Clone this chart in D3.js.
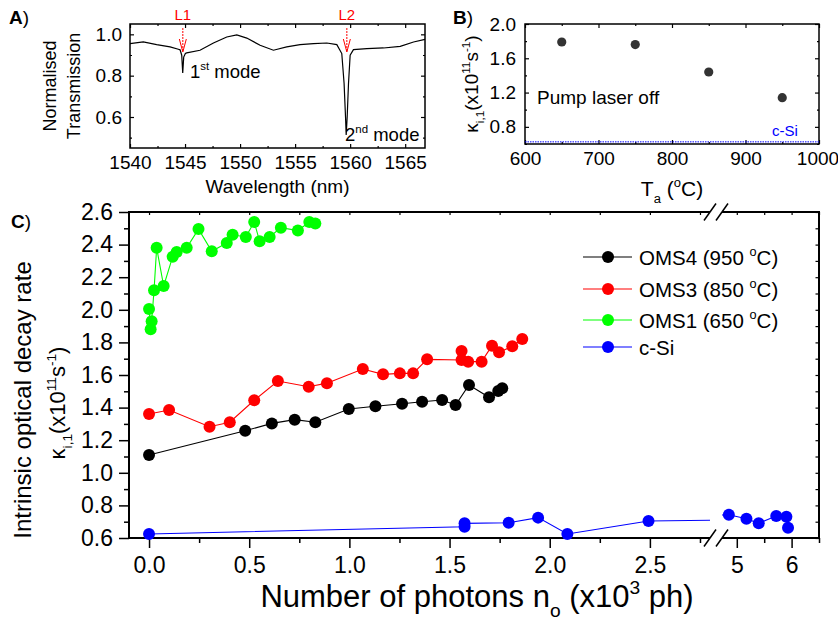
<!DOCTYPE html>
<html><head><meta charset="utf-8">
<script src="https://cdn.jsdelivr.net/npm/d3@7"></script>
<style>
body{margin:0;background:#fff;}
</style></head><body>
<svg id="c" width="838" height="626"></svg>
<script>
// ---------------- Panel A data ----------------
const wavelengthNm = [1540.0,1541.21,1542.42,1543.64,1544.39,1544.55,1544.70,1544.79,1544.88,1545.03,1545.15,1546.36,1547.58,1548.79,1549.70,1550.61,1551.82,1553.03,1554.24,1555.45,1556.67,1557.88,1558.79,1559.24,1559.45,1559.58,1559.64,1559.73,1559.85,1560.0,1560.30,1561.52,1563.03,1564.55,1565.76,1566.8];
const transmission = [0.955,0.963,0.950,0.939,0.928,0.925,0.899,0.813,0.890,0.907,0.910,0.923,0.958,0.987,0.997,0.982,0.947,0.923,0.939,0.950,0.955,0.958,0.950,0.907,0.762,0.600,0.513,0.600,0.762,0.899,0.926,0.931,0.934,0.942,0.963,0.976];
const laserLabels = ["L1","L2"];
const laserWavelengths = [1544.8, 1559.7];
const xTicksA = [1540,1545,1550,1555,1560,1565];
const xMinorA = [1542.5,1547.5,1552.5,1557.5,1562.5];
const yTicksA = [0.6,0.8,1.0];
const yMinorA = [0.5,0.7,0.9];

// ---------------- Panel B data ----------------
const annealTemps = [650,750,850,950];
const kappaPumpOff = [1.79,1.76,1.44,1.14];
const cSiKappa = 0.625;
const xTicksB = [600,700,800,900,1000];
const xMinorB = [650,750,850,950];
const yTicksB = [0.8,1.2,1.6,2.0];
const yMinorB = [0.6,1.0,1.4,1.8];

// ---------------- Panel C data ----------------
const seriesNames = ["OMS4 (950 ", "OMS3 (850 ", "OMS1 (650 ", "c-Si"];
const seriesColors = ["#000000","#ff0000","#00ff00","#0000ff"];
const oms4X = [0.0,0.48,0.613,0.727,0.83,0.997,1.13,1.263,1.363,1.463,1.53,1.597,1.697,1.743,1.763];
const oms4Y = [1.109,1.258,1.303,1.326,1.31,1.391,1.408,1.424,1.436,1.447,1.416,1.539,1.463,1.502,1.518];
const oms3X = [0.0,0.1,0.302,0.403,0.525,0.643,0.797,0.888,1.067,1.168,1.252,1.318,1.388,1.56,1.56,1.593,1.66,1.712,1.747,1.813,1.863];
const oms3Y = [1.361,1.385,1.283,1.31,1.445,1.563,1.528,1.55,1.637,1.604,1.61,1.61,1.696,1.692,1.747,1.682,1.682,1.78,1.739,1.776,1.821];
const oms1X = [0.0,0.008,0.013,0.025,0.038,0.073,0.118,0.138,0.188,0.247,0.313,0.388,0.417,0.483,0.525,0.552,0.602,0.658,0.743,0.80,0.83];
const oms1Y = [2.005,1.88,1.93,2.12,2.38,2.146,2.326,2.355,2.38,2.495,2.359,2.41,2.46,2.447,2.539,2.42,2.447,2.504,2.486,2.539,2.53];
const cSiX = [0.0,1.575,1.575,1.795,1.942,2.088,2.493,4.855,5.176,5.4,5.72,5.905,5.935];
const cSiY = [0.625,0.669,0.69,0.694,0.725,0.625,0.704,0.743,0.718,0.69,0.735,0.731,0.663];
const xTicksCLeft = [0.0,0.5,1.0,1.5,2.0,2.5];
const xMinorCLeft = [0.25,0.75,1.25,1.75,2.25,2.75];
const xTicksCRight = [5,6];
const xMinorCRight = [5.5,6.5];
const yTicksC = [0.6,0.8,1.0,1.2,1.4,1.6,1.8,2.0,2.2,2.4,2.6];
const yMinorC = [0.7,0.9,1.1,1.3,1.5,1.7,1.9,2.1,2.3,2.5];
const breakLeft = 2.8, breakRight = 4.73;

// ---------------- helpers ----------------
const FONT = "'Liberation Sans', Arial, Helvetica, sans-serif";
const svg = d3.select("#c");

function rich(g, parts, fs, attrs) {
  const t = g.append("text").attr("font-size", fs).attr("font-family", FONT).attr("fill", "#000");
  for (const k in (attrs || {})) t.attr(k, attrs[k]);
  let shift = 0;
  parts.forEach(p => {
    const target = p.sup ? -fs * 0.42 : p.sub ? fs * 0.32 : 0;
    const ts = t.append("tspan").text(p.t).attr("dy", target - shift);
    if (p.sup || p.sub) ts.attr("font-size", fs * 0.62);
    shift = target;
  });
  return t;
}

function axis(g, gen, scale, tr, ticks, size, fs, fmt, pad, sw) {
  const a = gen(scale).tickValues(ticks).tickSizeInner(size).tickSizeOuter(0).tickPadding(pad || 3);
  a.tickFormat(fmt ? fmt : () => "");
  const s = g.append("g").attr("transform", tr).call(a);
  s.select(".domain").remove();
  s.selectAll("line").attr("stroke", "#000").attr("stroke-width", sw || 1.2);
  s.selectAll("text").attr("font-size", fs).attr("font-family", FONT).attr("fill", "#000");
  return s;
}

// ================= Panel A =================
(function () {
  const L = 130, R = 425, T = 24, B = 148;
  const x = d3.scaleLinear().domain([1540, 1566.8]).range([L, R]);
  const y = d3.scaleLinear().domain([0.45, 1.05]).range([B, T]);
  const g = svg.append("g");
  const f1 = d3.format(".1f");
  axis(g, d3.axisBottom, x, `translate(0,${B})`, xTicksA, -4, 19, d3.format("d"), 8);
  axis(g, d3.axisBottom, x, `translate(0,${B})`, xMinorA, -2, 19);
  axis(g, d3.axisTop, x, `translate(0,${T})`, xTicksA, -4, 19);
  axis(g, d3.axisTop, x, `translate(0,${T})`, xMinorA, -2, 19);
  axis(g, d3.axisLeft, y, `translate(${L},0)`, yTicksA, -4, 19, f1, 8);
  axis(g, d3.axisLeft, y, `translate(${L},0)`, yMinorA, -2, 19);
  axis(g, d3.axisRight, y, `translate(${R},0)`, yTicksA, -4, 19);
  axis(g, d3.axisRight, y, `translate(${R},0)`, yMinorA, -2, 19);
  g.append("rect").attr("x", L).attr("y", T).attr("width", R - L).attr("height", B - T)
    .attr("fill", "none").attr("stroke", "#000").attr("stroke-width", 1.5);
  const line = d3.line().x((d, i) => x(wavelengthNm[i])).y(d => y(d));
  g.append("path").attr("d", line(transmission)).attr("fill", "none").attr("stroke", "#000").attr("stroke-width", 1.2);
  laserWavelengths.forEach((w, i) => {
    const cx = x(w);
    g.append("line").attr("x1", cx).attr("x2", cx).attr("y1", 28).attr("y2", 51)
      .attr("stroke", "#ff0000").attr("stroke-width", 1).attr("stroke-dasharray", "2,1");
    g.append("path").attr("d", `M${cx - 3.5},39 L${cx},52 L${cx + 3.5},39`).attr("fill", "none")
      .attr("stroke", "#ff0000").attr("stroke-width", 1);
    g.append("text").text(laserLabels[i]).attr("x", cx).attr("y", 20).attr("text-anchor", "middle")
      .attr("font-size", 15).attr("font-family", FONT).attr("fill", "#ff0000");
  });
  rich(g, [{ t: "1" }, { t: "st", sup: true }, { t: " mode" }], 18.5, { x: 190, y: 78 });
  rich(g, [{ t: "2" }, { t: "nd", sup: true }, { t: " mode" }], 18.5, { x: 345, y: 141 });
  rich(g, [{ t: "Wavelength (nm)" }], 19, { x: (L + R) / 2, y: 193, "text-anchor": "middle" });
  rich(g, [{ t: "Normalised" }], 18, { transform: "translate(56,86) rotate(-90)", "text-anchor": "middle" });
  rich(g, [{ t: "Transmission" }], 18, { transform: "translate(80,86) rotate(-90)", "text-anchor": "middle" });
  const lab = g.append("text").attr("x", 9).attr("y", 24).attr("font-family", FONT).attr("font-size", 19);
  lab.append("tspan").text("A").attr("font-weight", "bold");
  lab.append("tspan").text(")");
})();

// ================= Panel B =================
(function () {
  const L = 525, R = 819, T = 24, B = 144;
  const x = d3.scaleLinear().domain([600, 1000]).range([L, R]);
  const y = d3.scaleLinear().domain([0.6, 2.0]).range([B, T]);
  const g = svg.append("g");
  const xa = axis(g, d3.axisBottom, x, `translate(0,${B})`, xTicksB, -4, 19, d3.format("d"), 8);
  xa.selectAll("text").filter(d => d === 1000).attr("dx", -1.5);
  axis(g, d3.axisBottom, x, `translate(0,${B})`, xMinorB, -2, 19);
  axis(g, d3.axisTop, x, `translate(0,${T})`, xTicksB, -4, 19);
  axis(g, d3.axisTop, x, `translate(0,${T})`, xMinorB, -2, 19);
  axis(g, d3.axisLeft, y, `translate(${L},0)`, yTicksB, -4, 19, d3.format(".1f"), 9);
  axis(g, d3.axisLeft, y, `translate(${L},0)`, yMinorB, -2, 19);
  axis(g, d3.axisRight, y, `translate(${R},0)`, yTicksB, -4, 19);
  axis(g, d3.axisRight, y, `translate(${R},0)`, yMinorB, -2, 19);
  g.append("rect").attr("x", L).attr("y", T).attr("width", R - L).attr("height", B - T)
    .attr("fill", "none").attr("stroke", "#000").attr("stroke-width", 1.5);
  g.append("line").attr("x1", L).attr("x2", R).attr("y1", y(cSiKappa)).attr("y2", y(cSiKappa))
    .attr("stroke", "#0000ff").attr("stroke-width", 1).attr("stroke-dasharray", "1.5,1");
  g.selectAll("circle.b").data(annealTemps).enter().append("circle")
    .attr("cx", d => x(d)).attr("cy", (d, i) => y(kappaPumpOff[i])).attr("r", 4.6).attr("fill", "#333333");
  rich(g, [{ t: "Pump laser off" }], 19, { x: 537, y: 104 });
  rich(g, [{ t: "c-Si" }], 15, { x: 772, y: 136, fill: "#0000ff" });
  rich(g, [{ t: "T" }, { t: "a", sub: true }, { t: " (" }, { t: "o", sup: true }, { t: "C)" }], 21, { x: (L + R) / 2, y: 196, "text-anchor": "middle" });
  rich(g, [{ t: "κ" }, { t: "i,1", sub: true }, { t: "(x10" }, { t: "11", sup: true }, { t: "s" }, { t: "-1", sup: true }, { t: ")" }], 19,
    { transform: "translate(478,84) rotate(-90)", "text-anchor": "middle" });
  const lab = g.append("text").attr("x", 453).attr("y", 24).attr("font-family", FONT).attr("font-size", 19);
  lab.append("tspan").text("B").attr("font-weight", "bold");
  lab.append("tspan").text(")");
})();

// ================= Panel C =================
(function () {
  const L = 129, R = 819, T = 212, B = 538;
  const xL = d3.scaleLinear().domain([-0.1, breakLeft]).range([L, 710]);
  const xR = d3.scaleLinear().domain([breakRight, 6.5]).range([722, R]);
  const xC = v => v <= breakLeft ? xL(v) : xR(v);
  const y = d3.scaleLinear().domain([0.6, 2.6]).range([B, T]);
  const g = svg.append("g");
  const f1 = d3.format(".1f");
  axis(g, d3.axisBottom, xL, `translate(0,${B})`, xTicksCLeft, 10, 23, f1, 9, 1.5);
  axis(g, d3.axisBottom, xL, `translate(0,${B})`, xMinorCLeft, 5, 23, null, 3, 1.5);
  axis(g, d3.axisBottom, xR, `translate(0,${B})`, xTicksCRight, 10, 23, d3.format("d"), 9, 1.5);
  axis(g, d3.axisBottom, xR, `translate(0,${B})`, xMinorCRight, 5, 23, null, 3, 1.5);
  axis(g, d3.axisTop, xL, `translate(0,${T})`, xTicksCLeft.concat(xMinorCLeft), -3, 23, null, 3, 1.2);
  axis(g, d3.axisTop, xR, `translate(0,${T})`, xTicksCRight.concat(xMinorCRight), -3, 23, null, 3, 1.2);
  axis(g, d3.axisLeft, y, `translate(${L},0)`, yTicksC, 10, 23, f1, 6, 1.5);
  axis(g, d3.axisLeft, y, `translate(${L},0)`, yMinorC, 5, 23, null, 3, 1.5);
  axis(g, d3.axisRight, y, `translate(${R},0)`, yTicksC.concat(yMinorC), -3.5, 23, null, 3, 1.2);
  const fl = (x1, y1, x2, y2, w) => g.append("line").attr("x1", x1).attr("y1", y1).attr("x2", x2).attr("y2", y2)
    .attr("stroke", "#000").attr("stroke-width", w);
  fl(L, T - 1, L, B + 1, 2);
  fl(R, T - 1, R, B + 1, 2);
  fl(L, B, xL(breakLeft), B, 2);
  fl(xR(breakRight), B, R, B, 2);
  fl(L, T, xL(breakLeft), T, 1.8);
  fl(xR(breakRight), T, R, T, 1.8);
  [T, B].forEach(yy => {
    [xL(breakLeft), xR(breakRight)].forEach(cx => {
      g.append("line").attr("x1", cx - 6).attr("y1", yy + 8.5).attr("x2", cx + 6).attr("y2", yy - 8.5)
        .attr("stroke", "#000").attr("stroke-width", 1.5);
    });
  });

  const series = [[oms4X, oms4Y], [oms3X, oms3Y], [oms1X, oms1Y], [cSiX, cSiY]];
  const line = d3.line().x(d => xC(d[0])).y(d => y(d[1]));
  [3, 2, 1, 0].forEach(si => {
    const [xs, ys] = series[si];
    const pts = xs.map((v, i) => [v, ys[i]]);
    const left = [], right = [];
    for (let i = 0; i < pts.length; i++) {
      const p = pts[i];
      if (p[0] <= breakLeft) left.push(p); else if (p[0] >= breakRight) right.push(p);
      if (i < pts.length - 1) {
        const q = pts[i + 1];
        if (p[0] <= breakLeft && q[0] >= breakRight) {
          const f = v => p[1] + (q[1] - p[1]) * (v - p[0]) / (q[0] - p[0]);
          left.push([breakLeft, f(breakLeft)]);
          right.push([breakRight, f(breakRight)]);
        }
      }
    }
    [left, right].forEach(seg => {
      if (seg.length > 1) g.append("path").attr("d", line(seg)).attr("fill", "none")
        .attr("stroke", seriesColors[si]).attr("stroke-width", 1.1);
    });
    g.append("g").selectAll("circle").data(pts).enter().append("circle")
      .attr("cx", d => xC(d[0])).attr("cy", d => y(d[1])).attr("r", 6).attr("fill", seriesColors[si]);
  });

  const rowsY = [257, 289, 320, 347];
  seriesNames.forEach((n, i) => {
    const yy = rowsY[i];
    g.append("line").attr("x1", 583).attr("x2", 632).attr("y1", yy).attr("y2", yy)
      .attr("stroke", seriesColors[i]).attr("stroke-width", 1.1);
    g.append("circle").attr("cx", 608).attr("cy", yy).attr("r", 6).attr("fill", seriesColors[i]);
    const parts = i < 3 ? [{ t: n }, { t: "o", sup: true }, { t: "C)" }] : [{ t: n }];
    rich(g, parts, 20.5, { x: 639, y: yy + 7.5 });
  });

  rich(g, [{ t: "Number of photons n" }, { t: "o", sub: true }, { t: " (x10" }, { t: "3", sup: true }, { t: " ph)" }], 31,
    { x: 477, y: 607, "text-anchor": "middle" });
  rich(g, [{ t: "Intrinsic optical decay rate" }], 24, { transform: "translate(31,400) rotate(-90)", "text-anchor": "middle" });
  rich(g, [{ t: "κ" }, { t: "i,1", sub: true }, { t: "(x10" }, { t: "11", sup: true }, { t: "s" }, { t: "-1", sup: true }, { t: ")" }], 22,
    { transform: "translate(65,403) rotate(-90)", "text-anchor": "middle" });
  const lab = g.append("text").attr("x", 11).attr("y", 228).attr("font-family", FONT).attr("font-size", 19);
  lab.append("tspan").text("C").attr("font-weight", "bold");
  lab.append("tspan").text(")");
})();
</script>
</body></html>
